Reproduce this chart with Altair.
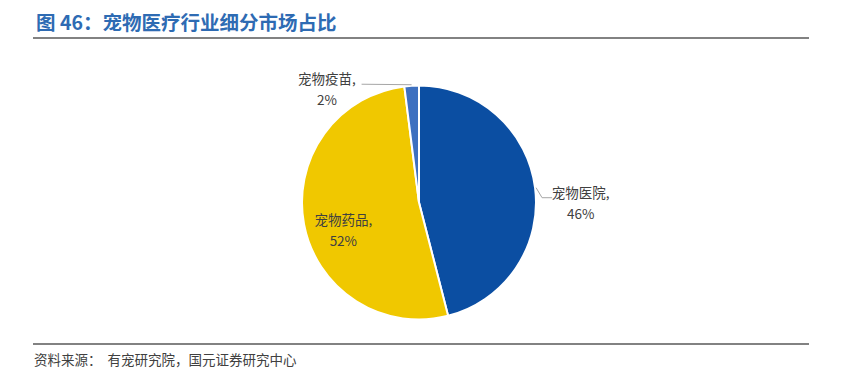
import altair as alt
import pandas as pd

# ---- data ----
categories = ["宠物医院", "宠物药品", "宠物疫苗"]
values = [46, 52, 2]
pct_labels = ["46%", "52%", "2%"]
colors = ["#0B4EA2", "#F0C800", "#3E70C0"]

title_text = "图 46：宠物医疗行业细分市场占比"
source_text = "资料来源：\u00a0\u00a0有宠研究院，国元证券研究中心"

df = pd.DataFrame({
    "category": categories,
    "value": values,
    "idx": list(range(len(categories))),
    "label": [f"{c},\n{p}" for c, p in zip(categories, pct_labels)],
})

FONT = "Noto Sans CJK SC"
CX, CY, R = 411, 194.5, 117

base = alt.Chart(df)
theta = alt.Theta("value:Q", stack=True)
order = alt.Order("idx:Q", sort="ascending")

pie = base.mark_arc(radius=R, stroke="white", strokeWidth=2).encode(
    theta=theta,
    order=order,
    x=alt.value(CX),
    y=alt.value(CY),
    color=alt.Color("category:N", sort=categories,
                    scale=alt.Scale(domain=categories, range=colors), legend=None),
)


def label_layer(cat, radius, dx, dy):
    return base.transform_calculate(
        lab=f"datum.category == '{cat}' ? datum.label : ''"
    ).mark_text(
        radius=radius, dx=dx, dy=dy, lineBreak="\n", font=FONT, fontSize=13.5,
        color="#404040", align="center", baseline="middle", lineHeight=21,
    ).encode(theta=theta, order=order, x=alt.value(CX), y=alt.value(CY),
             text="lab:N")


labels = [
    label_layer("宠物医院", 163, 0, 12),
    label_layer("宠物药品", 75, -2, 4),
    label_layer("宠物疫苗", 113, -85, -10),
]


def angles(ch):
    return ch.transform_window(
        cum="sum(value)", sort=[alt.SortField("idx")]
    ).transform_joinaggregate(total="sum(value)").transform_calculate(
        mid="(datum.cum - datum.value / 2) / datum.total * 2 * PI"
    ).transform_calculate(
        ex=f"{CX} + {R + 1} * sin(datum.mid)",
        ey=f"{CY} - {R + 1} * cos(datum.mid)",
    )


lead_a = angles(base).transform_filter(alt.datum.category == "宠物医院").transform_calculate(
    bx="datum.ex + 6", by="datum.ey + 10", cx2="datum.ex + 16"
)
lead1 = lead_a.mark_rule(color="#A6A6A6", strokeWidth=1).encode(
    x=alt.X("ex:Q", scale=None), y=alt.Y("ey:Q", scale=None),
    x2="bx:Q", y2="by:Q")
lead2 = lead_a.mark_rule(color="#A6A6A6", strokeWidth=1).encode(
    x=alt.X("bx:Q", scale=None), y=alt.Y("by:Q", scale=None),
    x2="cx2:Q", y2="by:Q")

lead_c = angles(base).transform_filter(alt.datum.category == "宠物疫苗").transform_calculate(
    lx="datum.ex - 50", ly="datum.ey - 0.5"
)
lead3 = lead_c.mark_rule(color="#A6A6A6", strokeWidth=1).encode(
    x=alt.X("ex:Q", scale=None), y=alt.Y("ey:Q", scale=None),
    x2="lx:Q", y2="ly:Q")

title = alt.Chart(pd.DataFrame({"t": [title_text]})).mark_text(
    font=FONT, fontSize=19.5, fontWeight="bold", color="#2E6BB3",
    align="left", baseline="middle",
).encode(x=alt.value(28), y=alt.value(16), text="t:N")

source = alt.Chart(pd.DataFrame({"t": [source_text]})).mark_text(
    font=FONT, fontSize=13.5, color="#404040", align="left", baseline="middle",
).encode(x=alt.value(26), y=alt.value(353), text="t:N")

rule_top = alt.Chart(pd.DataFrame({"a": [0]})).mark_rule(
    color="#595959", strokeWidth=1.5
).encode(x=alt.value(25), x2=alt.value(801), y=alt.value(30))
rule_bot = alt.Chart(pd.DataFrame({"a": [0]})).mark_rule(
    color="#595959", strokeWidth=1.5
).encode(x=alt.value(25), x2=alt.value(801), y=alt.value(336))

chart = alt.layer(
    pie, *labels, lead1, lead2, lead3, title, source, rule_top, rule_bot
).properties(
    width=828, height=362, padding=0, autosize="none", background="white"
).configure_view(stroke=None)

chart.save("out.html", embed_options={"renderer": "svg", "actions": False})
